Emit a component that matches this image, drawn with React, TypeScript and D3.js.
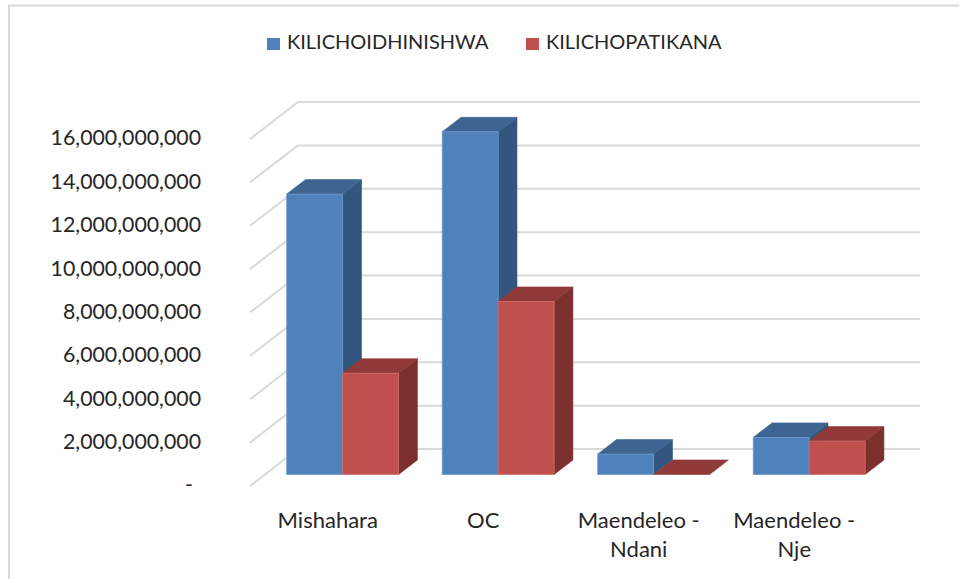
import React from "react";
import * as d3 from "d3";

const categories = [["Mishahara"], ["OC"], ["Maendeleo -", "Ndani"], ["Maendeleo -", "Nje"]];
const seriesNames = ["KILICHOIDHINISHWA", "KILICHOPATIKANA"];
const kilichoidhinishwa = [12.93e9, 15.8e9, 0.94e9, 1.71e9];
const kilichopatikana = [4.67e9, 7.98e9, 0, 1.54e9];
const yTicks = [0, 2e9, 4e9, 6e9, 8e9, 10e9, 12e9, 14e9, 16e9];

const W = 959;
const H = 579;
const FONT = "Lato, 'Open Sans', sans-serif";

// oblique projection: depth is measured in screen px (dy) from the back wall
const DEPTH = 37;
const SLOPE = 48 / 37;
const BAR_FRONT = 25.5;
const BAR_BACK = 11;

const faces = [
  { front: "#4f81bd", top: "#3e6591", side: "#33567f", edge: "#6f97c9" },
  { front: "#c0504d", top: "#8f3a38", side: "#7c302e", edge: "#cd6f6c" },
];

export default function App() {
  const labels = categories.map((c) => c.join(" "));
  const x0 = d3.scaleBand<string>().domain(labels).range([298, 920]).padding(0);
  const x1 = d3
    .scaleBand<string>()
    .domain(seriesNames)
    .range([0, x0.bandwidth()])
    .paddingInner(0)
    .paddingOuter(0.39);
  const y = d3.scaleLinear().domain([0, 16e9]).range([449, 102]);
  const proj = (X: number, Y: number, d: number): [number, number] => [X - d * SLOPE, Y + d];
  const pt = (p: [number, number]) => `${p[0].toFixed(2)},${p[1].toFixed(2)}`;
  const fmt = d3.format(",");
  const data = [kilichoidhinishwa, kilichopatikana];

  const bars: React.ReactNode[] = [];
  labels.forEach((cat, ci) => {
    seriesNames.forEach((s, si) => {
      const v = data[si][ci];
      const X = (x0(cat) ?? 0) + (x1(s) ?? 0);
      const w = x1.bandwidth();
      const yt = y(v);
      const yb = y(0);
      const c = faces[si];
      const fTL = proj(X, yt, BAR_FRONT);
      const fTR = proj(X + w, yt, BAR_FRONT);
      const fBR = proj(X + w, yb, BAR_FRONT);
      const bTL = proj(X, yt, BAR_BACK);
      const bTR = proj(X + w, yt, BAR_BACK);
      const bBR = proj(X + w, yb, BAR_BACK);
      bars.push(
        <g key={`${ci}-${si}`}>
          {v > 0 && (
            <polygon
              points={[fTR, fBR, bBR, bTR].map(pt).join(" ")}
              fill={c.side}
              stroke={c.side}
              strokeWidth={0.6}
            />
          )}
          <polygon
            points={[fTL, fTR, bTR, bTL].map(pt).join(" ")}
            fill={c.top}
            stroke={c.top}
            strokeWidth={0.6}
          />
          {v > 0 && (
            <rect
              x={fTL[0]}
              y={fTL[1]}
              width={w}
              height={yb - yt}
              fill={c.front}
              stroke={c.edge}
              strokeWidth={0.8}
            />
          )}
        </g>
      );
    });
  });

  return (
    <svg width={W} height={H} style={{ position: "absolute", left: 0, top: 0, background: "#fff" }}>
      <rect x={9} y={5.5} width={W} height={H} fill="#fff" stroke="#d9d9d9" strokeWidth={2} />
      {/* legend */}
      {seriesNames.map((s, i) => {
        const lx = [267, 526][i];
        return (
          <g key={s}>
            <rect x={lx} y={38} width={13} height={12} fill={faces[i].front} />
            <text x={lx + 20} y={44} dominantBaseline="middle" fontFamily={FONT} fontSize={20} fill="#262626">
              {s}
            </text>
          </g>
        );
      })}
      {/* back wall gridlines and side wall */}
      {yTicks.map((t) => (
        <g key={t} stroke="#d9d9d9" strokeWidth={2} fill="none">
          <line x1={298} x2={920} y1={y(t)} y2={y(t)} />
          <line x1={proj(298, y(t), DEPTH)[0]} y1={proj(298, y(t), DEPTH)[1]} x2={298} y2={y(t)} />
        </g>
      ))}
      {/* y labels */}
      {yTicks.map((t) => (
        <text
          key={`l${t}`}
          x={t === 0 ? 193 : 201}
          y={y(t) + DEPTH + 1}
          textAnchor="end"
          dominantBaseline="middle"
          fontFamily={FONT}
          fontSize={21.3}
          fill="#262626"
        >
          {t === 0 ? "-" : fmt(t)}
        </text>
      ))}
      {bars}
      {/* category labels */}
      {categories.map((lines, i) => {
        const cx = (x0(labels[i]) ?? 0) + x0.bandwidth() / 2 - DEPTH * SLOPE;
        return (
          <text key={labels[i]} textAnchor="middle" fontFamily={FONT} fontSize={22} fill="#262626">
            {lines.map((l, li) => (
              <tspan key={li} x={cx} y={528 + li * 29}>
                {l}
              </tspan>
            ))}
          </text>
        );
      })}
    </svg>
  );
}
